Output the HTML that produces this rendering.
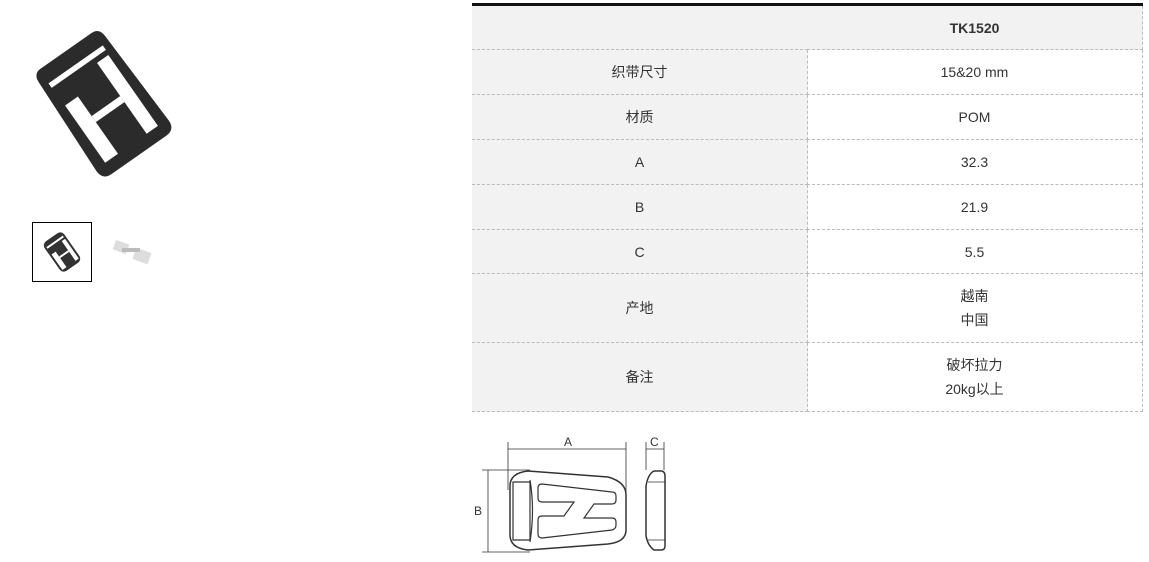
<!DOCTYPE html>
<html><head><meta charset="utf-8"><style>
body{margin:0;width:1149px;height:562px;background:#fff;font-family:"Liberation Sans","Noto Sans CJK SC",sans-serif;position:relative;overflow:hidden;color:#333}
.c{position:absolute;box-sizing:border-box;border-right:1px dashed #bbb;border-bottom:1px dashed #bbb;display:flex;align-items:center;justify-content:center;text-align:center;font-size:14px;line-height:24px}
.g{background:#f2f2f2}
</style></head><body>
<svg style="position:absolute;left:0;top:0" width="200" height="290">
<g transform="translate(102 103) scale(0.92) translate(-102 -103) rotate(-35 102 102)">
<path d="M68 34 H136 Q146 34 146 46 L150 160 Q150 172 138 172 H66 Q54 172 54 160 L58 46 Q58 34 68 34Z" fill="#2b2b2b"/>
<g fill="#fff">
<rect x="66" y="52" width="72" height="6"/>
<rect x="122" y="64" width="15" height="94"/>
<rect x="67" y="82" width="17" height="76"/>
<rect x="84" y="108" width="38" height="8"/>
</g>
</g>
</svg>
<div style="position:absolute;left:32px;top:222px;width:58px;height:58px;border:1px solid #000"></div>
<svg style="position:absolute;left:33px;top:223px" width="58" height="58"><g transform="rotate(-35 29 29)"><rect x="17" y="11" width="24" height="36" rx="5" fill="#333"/><g fill="#fff"><rect x="19" y="16" width="20" height="2"/><rect x="35" y="20" width="4" height="24"/><rect x="19" y="25" width="5" height="19"/><rect x="24" y="31" width="11" height="2"/></g></g></svg>
<svg style="position:absolute;left:108px;top:234px" width="50" height="40"><g fill="#ddd"><rect x="6" y="8" width="14" height="10" transform="rotate(20 13 13)"/><rect x="26" y="16" width="16" height="12" transform="rotate(20 34 22)"/><rect x="14" y="14" width="18" height="4" fill="#bbb"/></g></svg>
<div style="position:absolute;left:472px;top:3px;width:671px;height:3px;background:#111"></div>
<div style="position:absolute;left:472px;top:6px;width:671px;height:405px;border-left:1px dashed #bbb;box-sizing:border-box"></div>
<div class="c g" style="left:472px;top:6px;width:336px;height:44px"></div>
<div class="c g" style="left:807px;top:6px;width:336px;height:44px;font-weight:bold">TK1520</div>
<div class="c g" style="left:472px;top:50px;width:336px;height:45px">织带尺寸</div>
<div class="c" style="left:807px;top:50px;width:336px;height:45px">15&amp;20 mm</div>
<div class="c g" style="left:472px;top:95px;width:336px;height:45px">材质</div>
<div class="c" style="left:807px;top:95px;width:336px;height:45px">POM</div>
<div class="c g" style="left:472px;top:140px;width:336px;height:45px">A</div>
<div class="c" style="left:807px;top:140px;width:336px;height:45px">32.3</div>
<div class="c g" style="left:472px;top:185px;width:336px;height:45px">B</div>
<div class="c" style="left:807px;top:185px;width:336px;height:45px">21.9</div>
<div class="c g" style="left:472px;top:230px;width:336px;height:44px">C</div>
<div class="c" style="left:807px;top:230px;width:336px;height:44px">5.5</div>
<div class="c g" style="left:472px;top:274px;width:336px;height:69px">产地</div>
<div class="c" style="left:807px;top:274px;width:336px;height:69px">越南<br>中国</div>
<div class="c g" style="left:472px;top:343px;width:336px;height:69px">备注</div>
<div class="c" style="left:807px;top:343px;width:336px;height:69px">破坏拉力<br>20kg以上</div>
<svg style="position:absolute;left:470px;top:420px" width="210" height="142" font-family="Liberation Sans" font-size="12" fill="none" stroke="#333" stroke-width="0.8">
<line x1="38" y1="22" x2="38" y2="70"/><line x1="156" y1="22" x2="156" y2="80"/><line x1="38" y1="29" x2="156" y2="29"/>
<text x="94" y="26" fill="#333" stroke="none">A</text>
<line x1="176" y1="22" x2="176" y2="50"/><line x1="194" y1="22" x2="194" y2="50"/><line x1="176" y1="29" x2="194" y2="29"/>
<text x="180" y="26" fill="#333" stroke="none">C</text>
<line x1="12" y1="50" x2="60" y2="50"/><line x1="12" y1="132" x2="60" y2="132"/><line x1="18" y1="50" x2="18" y2="132"/>
<text x="4" y="95" fill="#333" stroke="none">B</text>
<path d="M58 51 L138 57 Q156 62 156 75 V110 Q156 122 138 124 L58 130 Q40 128 40 115 V66 Q40 53 58 51Z" stroke-width="1.5"/>
<path d="M43 62 H60 V120 H43Z" stroke-width="1.2"/><path d="M60 60 Q65 90 60 122" stroke-width="1.2"/>
<path d="M72 64 Q68 64 68 68 V78 Q68 82 72 82 H104 L94 96 H72 Q68 96 68 100 V114 Q68 118 72 118 L142 110 Q146 109 146 105 V102 Q146 98 142 98 H114 L124 84 H142 Q146 84 146 80 V76 Q146 72 142 72Z" stroke-width="1.2"/>
<path d="M184 51 H192 Q195 52 195 56 V126 Q195 130 191 130 H184 Q178 126 176 116 V66 Q178 54 184 51Z" stroke-width="1.5"/>
<line x1="178" y1="62" x2="195" y2="62"/><line x1="178" y1="120" x2="195" y2="120"/>
</svg>
</body></html>
